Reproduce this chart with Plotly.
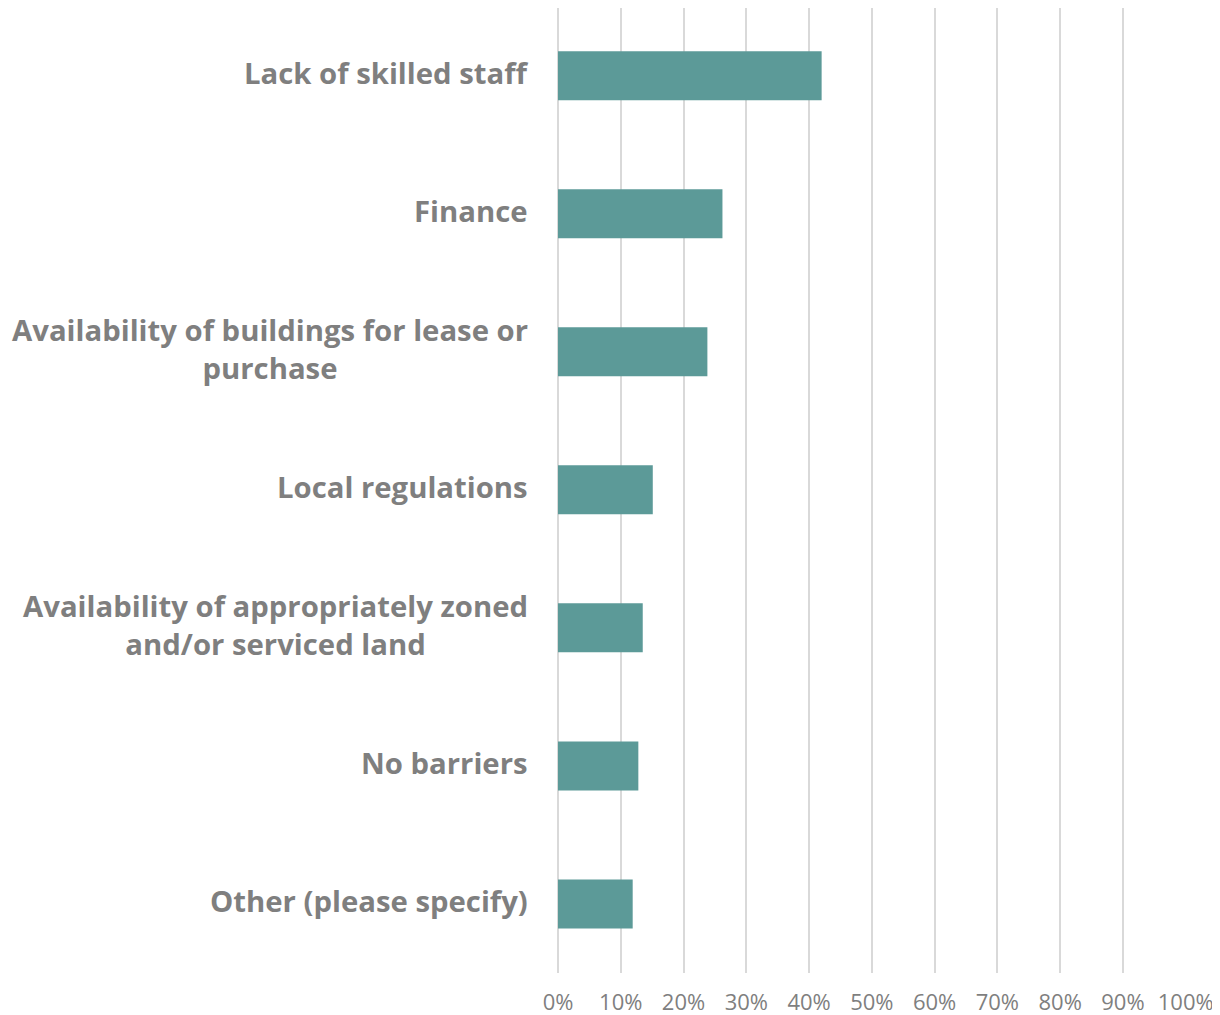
import plotly.graph_objects as go

categories = [
    "Lack of skilled staff",
    "Finance",
    "Availability of buildings for lease or<br>purchase",
    "Local regulations",
    "Availability of appropriately zoned<br>and/or serviced land",
    "No barriers",
    "Other (please specify)",
]
values = [0.42, 0.262, 0.238, 0.151, 0.135, 0.128, 0.119]
tick_vals = [i / 10 for i in range(11)]

BAR = "#5c9a98"
GRID = "#d9d9d9"
TXT = "#7f7f7f"

fig = go.Figure()
fig.add_trace(go.Bar(
    x=values,
    y=list(range(len(categories))),
    orientation="h",
    marker=dict(color=BAR, line=dict(width=0)),
    hoverinfo="skip",
))

for i, c in enumerate(categories):
    fig.add_annotation(
        x=0, xref="paper", y=i, yref="y",
        text=c, showarrow=False, xanchor="right", yanchor="middle",
        align="center", xshift=-28, yshift=3,
        font=dict(family="Open Sans", size=29.3, color=TXT, weight="bold"),
    )

fig.update_layout(
    width=1212, height=1007,
    margin=dict(l=550, r=34, t=0, b=42),
    paper_bgcolor="white", plot_bgcolor="white",
    bargap=0.645,
    showlegend=False,
    font=dict(family="Open Sans", color=TXT),
)
fig.update_xaxes(
    range=[0, 1.0005], tickvals=tick_vals, tickformat=".0%",
    showgrid=True, gridcolor=GRID, gridwidth=1.5,
    zeroline=True, zerolinecolor=GRID, zerolinewidth=1.5,
    showline=False, ticks="",
    ticklabelstandoff=14,
    tickfont=dict(family="Open Sans", size=22, color=TXT),
)
fig.update_yaxes(
    range=[6.5, -0.49], showticklabels=False, showgrid=False,
    zeroline=False, showline=False,
)

fig.write_html("out.html")
